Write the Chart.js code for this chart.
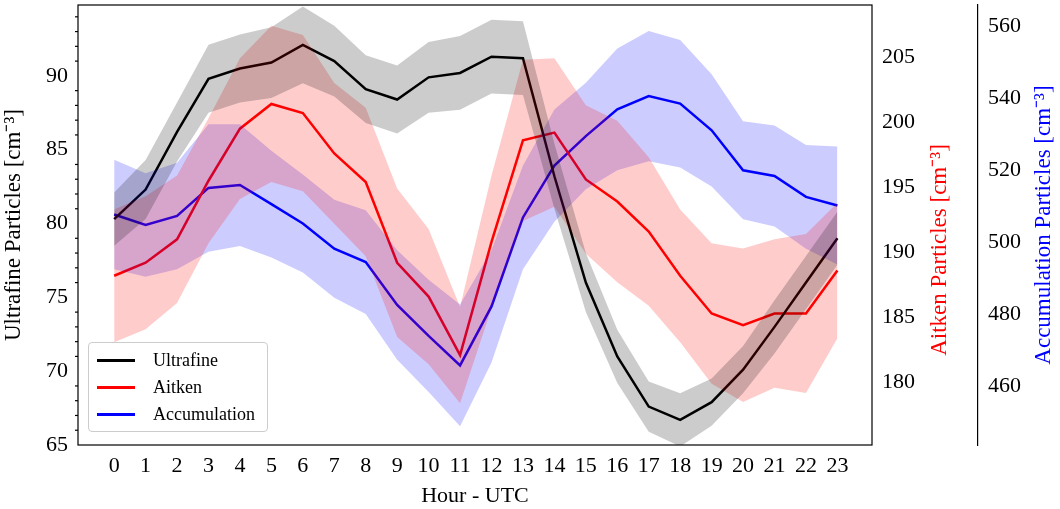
<!DOCTYPE html>
<html>
<head>
<meta charset="utf-8">
<script src="https://cdn.jsdelivr.net/npm/chart.js@4"></script>
<style>
  body { margin: 0; background: #fff; }
  #wrap { position: relative; width: 1060px; height: 509px; }
  #legend { position: absolute; left: 88px; top: 342px; background: rgba(255,255,255,0.85);
    border: 1px solid #ccc; border-radius: 4px; padding: 4px 12px 3px 8px;
    font: 18px "Liberation Serif", serif; }
  #legend div { display: flex; align-items: center; height: 27px; }
  #legend span { display: inline-block; width: 38px; height: 3px; margin-right: 18px; }
</style>
</head>
<body>
<div id="wrap">
  <canvas id="c" width="1060" height="509"></canvas>
  <div id="legend">
    <div><span style="background:#000"></span>Ultrafine</div>
    <div><span style="background:#f00"></span>Aitken</div>
    <div><span style="background:#00f"></span>Accumulation</div>
  </div>
</div>
<script>
const hours = [0,1,2,3,4,5,6,7,8,9,10,11,12,13,14,15,16,17,18,19,20,21,22,23];

const ultrafine = [80.3,82.3,86.2,89.8,90.5,90.9,92.1,91.0,89.1,88.4,89.9,90.2,91.3,91.2,83.2,76.0,71.0,67.6,66.7,67.9,70.1,73.0,76.0,79.0];
const ultrafineSd = [1.8,2,2,2.3,2.3,2.4,2.6,2.4,2.3,2.3,2.4,2.5,2.5,2.5,2.2,2,1.8,1.7,1.8,1.6,1.6,1.8,1.8,1.8];

const aitken = [188.2,189.2,191.0,195.5,199.5,201.4,200.7,197.6,195.4,189.2,186.6,182.1,190.8,198.6,199.2,195.6,193.9,191.6,188.2,185.3,184.4,185.3,185.3,188.6];
const aitkenSd = [5.1,5.1,4.9,4.8,5.4,6.0,6.0,5.4,5.7,5.7,5.2,3.7,5.1,6.2,5.7,5.7,6.2,5.7,5.1,5.4,5.9,5.7,6.1,5.2];

const accumulation = [507.8,504.9,507.4,515.2,516.0,510.7,505.3,498.3,494.6,482.7,474.1,465.9,482.3,507.0,521.4,529.6,537.0,540.7,538.6,531.2,520.1,518.5,512.7,510.3];
const accumulationSd = [15.2,14.4,14.8,17.7,16.9,14.8,13.6,13.6,14.4,15.2,15.6,16.9,15.6,14.4,15.6,14.8,16.9,18.1,17.7,15.6,13.6,14.0,14.4,16.4];

const pts = (v, sd, s) => hours.map((h, i) => ({ x: h, y: v[i] + s * (sd ? sd[i] : 0) }));

function band(v, sd, axis, color) {
  return [
    { data: pts(v, sd, -1), yAxisID: axis, borderWidth: 0, pointRadius: 0, fill: false, tension: 0 },
    { data: pts(v, sd, 1), yAxisID: axis, borderWidth: 0, pointRadius: 0, fill: '-1', backgroundColor: color, tension: 0 }
  ];
}
function line(v, axis, color) {
  return { data: pts(v, null, 0), yAxisID: axis, borderColor: color, borderWidth: 2.5, pointRadius: 0, fill: false, tension: 0 };
}

const font = { family: '"Liberation Serif", serif', size: 22 };
const noPad = s => { s.paddingTop = 0; s.paddingBottom = 0; };

const frame = {
  id: 'frame',
  afterDraw(chart) {
    const { ctx, chartArea: a } = chart;
    ctx.save();
    ctx.strokeStyle = '#000';
    ctx.lineWidth = 1.2;
    ctx.strokeRect(a.left, a.top, a.right - a.left, a.bottom - a.top);
    const y = chart.scales.y;
    for (let v = 66; v <= 94; v += 1) {
      if (v % 5 === 0) continue;
      const py = y.getPixelForValue(v);
      ctx.beginPath(); ctx.moveTo(a.left, py); ctx.lineTo(a.left - 3, py); ctx.stroke();
    }
    // right-hand titles, reading bottom to top
    ctx.font = '23px "Liberation Serif", serif';
    ctx.textAlign = 'center';
    ctx.textBaseline = 'middle';
    [['Aitken Particles [cm⁻³]', '#f00', 940, 250], ['Accumulation Particles [cm⁻³]', '#00f', 1044, 225]].forEach(([t, c, x, yy]) => {
      ctx.save(); ctx.translate(x, yy); ctx.rotate(-Math.PI / 2);
      ctx.fillStyle = c; ctx.fillText(t, 0, 0); ctx.restore();
    });
    ctx.restore();
  }
};

new Chart(document.getElementById('c'), {
  type: 'line',
  data: {
    datasets: [
      ...band(ultrafine, ultrafineSd, 'y', 'rgba(0,0,0,0.2)'),
      ...band(aitken, aitkenSd, 'y2', 'rgba(255,0,0,0.2)'),
      ...band(accumulation, accumulationSd, 'y3', 'rgba(0,0,255,0.2)'),
      line(ultrafine, 'y', '#000'),
      line(aitken, 'y2', '#f00'),
      line(accumulation, 'y3', '#00f')
    ]
  },
  options: {
    responsive: false,
    animation: false,
    layout: { padding: { top: 5, right: 0, left: 0, bottom: 0 } },
    plugins: { legend: { display: false }, tooltip: { enabled: false } },
    scales: {
      x: {
        type: 'linear', min: -1.15, max: 24.1,
        grid: { display: false, tickLength: 6 },
        border: { display: false },
        afterBuildTicks(s) { s.ticks = hours.map(h => ({ value: h })); },
        ticks: { color: '#000', font, maxRotation: 0, padding: 2 },
        title: { display: true, text: 'Hour - UTC', color: '#000', font, padding: 0 },
        afterFit(s) { s.height = 64; s.paddingLeft = 0; s.paddingRight = 0; }
      },
      y: {
        position: 'left', min: 65, max: 94.8,
        grid: { display: false, tickLength: 6 },
        border: { display: false },
        afterBuildTicks(s) { s.ticks = [65,70,75,80,85,90].map(v => ({ value: v })); },
        ticks: { color: '#000', font, padding: 4 },
        title: { display: true, text: 'Ultrafine Particles [cm⁻³]', color: '#000', font: { ...font, size: 23 }, padding: 0 },
        afterFit(s) { s.width = 78; noPad(s); }
      },
      y2: {
        position: 'right', min: 175.2, max: 209,
        grid: { display: false, tickLength: 6 },
        border: { display: false },
        afterBuildTicks(s) { s.ticks = [180,185,190,195,200,205].map(v => ({ value: v })); },
        ticks: { color: '#000', font, padding: 4 },
        afterFit(s) { s.width = 106; noPad(s); }
      },
      y3: {
        position: 'right', min: 443.8, max: 566,
        grid: { display: false, tickLength: 6 },
        border: { display: true, color: '#000', width: 1.2 },
        afterBuildTicks(s) { s.ticks = [460,480,500,520,540,560].map(v => ({ value: v })); },
        ticks: { color: '#000', font, padding: 4 },
        afterFit(s) { s.width = 82; noPad(s); }
      }
    }
  },
  plugins: [frame]
});
</script>
</body>
</html>
